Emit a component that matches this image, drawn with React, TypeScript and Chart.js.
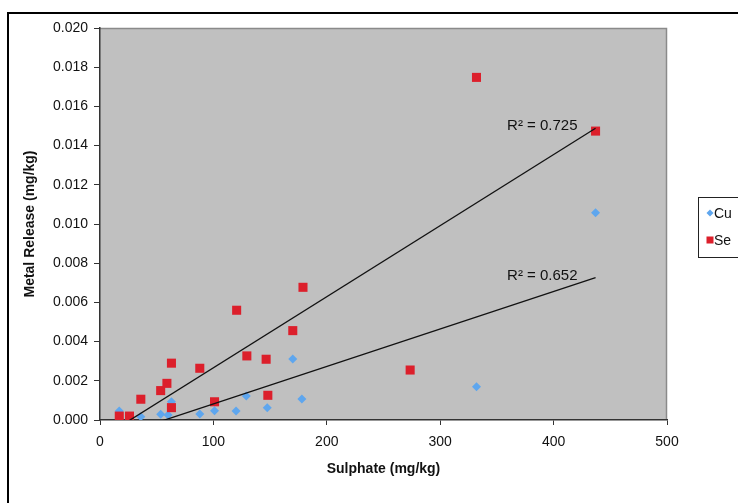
import React, { useEffect, useRef } from 'react';
import { Chart, registerables } from 'chart.js';

Chart.register(...registerables);

// ---- data ----
const seriesNames = ['Cu', 'Se'];
const seriesColors = ['#5ea6ee', '#dc1f2b'];
const cuSulphate = [17, 36, 53.5, 60, 63, 88, 101, 120, 129, 147.5, 170, 178, 332, 437];
const cuRelease = [0.00046, 0.00017, 0.00029, 0.00026, 0.00093, 0.00031, 0.00047, 0.00046, 0.00122, 0.00063, 0.00311, 0.00107, 0.0017, 0.01058];
const seSulphate = [17, 26, 36, 53.5, 59, 63, 63, 88, 101, 120.5, 129.5, 146.5, 148, 170, 179, 273.5, 332, 437];
const seRelease = [0.0002, 0.0002, 0.00106, 0.0015, 0.00187, 0.0029, 0.00063, 0.00264, 0.00093, 0.0056, 0.00327, 0.0031, 0.00126, 0.00456, 0.00677, 0.00255, 0.01748, 0.01474];
const rSquaredLabels = ['R\u00B2 = 0.652', 'R\u00B2 = 0.725'];
const xTitle = 'Sulphate (mg/kg)';
const yTitle = 'Metal Release (mg/kg)';
const xMin = 0, xMax = 500, xStep = 100;
const yMin = 0, yMax = 0.02, yStep = 0.002;

const FONT = "'Liberation Sans', Arial, sans-serif";

function linearFit(xs: number[], ys: number[]) {
  const n = xs.length;
  let sx = 0, sy = 0;
  for (let i = 0; i < n; i++) { sx += xs[i]; sy += ys[i]; }
  const mx = sx / n, my = sy / n;
  let sxy = 0, sxx = 0;
  for (let i = 0; i < n; i++) { sxy += (xs[i] - mx) * (ys[i] - my); sxx += (xs[i] - mx) ** 2; }
  const b = sxy / sxx;
  const a = my - b * mx;
  const lo = Math.min(...xs), hi = Math.max(...xs);
  return [{ x: lo, y: a + b * lo }, { x: hi, y: a + b * hi }];
}

const framePlugin = {
  id: 'frame',
  beforeDraw(chart: any) {
    const { ctx, chartArea: ca, width, height } = chart;
    ctx.save();
    ctx.fillStyle = '#ffffff';
    ctx.fillRect(0, 0, width, height);
    ctx.strokeStyle = '#000000';
    ctx.lineWidth = 2;
    ctx.strokeRect(8, 13, width + 40, height + 40);
    ctx.fillStyle = '#c0c0c0';
    ctx.fillRect(ca.left, ca.top, ca.right - ca.left, ca.bottom - ca.top);
    ctx.strokeStyle = '#8a8a8a';
    ctx.lineWidth = 1.5;
    ctx.beginPath();
    ctx.moveTo(ca.left, ca.top + 0.5);
    ctx.lineTo(ca.right - 0.5, ca.top + 0.5);
    ctx.lineTo(ca.right - 0.5, ca.bottom);
    ctx.stroke();
    ctx.restore();
  },
  afterDatasetsDraw(chart: any) {
    const { ctx } = chart;
    ctx.save();
    ctx.font = `15px ${FONT}`;
    ctx.fillStyle = '#111111';
    ctx.textAlign = 'right';
    ctx.textBaseline = 'middle';
    [2, 3].forEach((di, k) => {
      const meta = chart.getDatasetMeta(di);
      const end = meta.data[meta.data.length - 1];
      ctx.fillText(rSquaredLabels[k], end.x - 18, end.y - 2);
    });
    ctx.restore();
    // legend
    ctx.save();
    ctx.strokeStyle = '#222222';
    ctx.lineWidth = 1;
    ctx.strokeRect(698.5, 197.5, 80, 60);
    ctx.font = `14px ${FONT}`;
    ctx.textAlign = 'left';
    ctx.textBaseline = 'middle';
    seriesNames.forEach((name, i) => {
      const y = 213 + i * 27;
      const x = 710;
      ctx.fillStyle = seriesColors[i];
      if (i === 0) {
        ctx.beginPath();
        ctx.moveTo(x, y - 3.5);
        ctx.lineTo(x + 3.5, y);
        ctx.lineTo(x, y + 3.5);
        ctx.lineTo(x - 3.5, y);
        ctx.closePath();
        ctx.fill();
      } else {
        ctx.fillRect(x - 3.5, y - 3.5, 7, 7);
      }
      ctx.fillStyle = '#111111';
      ctx.fillText(name, 714, y + 1);
    });
    ctx.restore();
  },
};

export default function App() {
  const ref = useRef<HTMLCanvasElement | null>(null);
  useEffect(() => {
    if (!ref.current) return;
    const cuPts = cuSulphate.map((x, i) => ({ x, y: cuRelease[i] }));
    const sePts = seSulphate.map((x, i) => ({ x, y: seRelease[i] }));
    const chart = new Chart(ref.current, {
      type: 'scatter',
      data: {
        datasets: [
          {
            label: seriesNames[0], data: cuPts, order: 2,
            pointStyle: 'rectRot', pointRadius: 4.5, pointBorderWidth: 0,
            backgroundColor: seriesColors[0], borderColor: seriesColors[0],
          },
          {
            label: seriesNames[1], data: sePts, order: 1,
            pointStyle: 'rect', pointRadius: 6.4, pointBorderWidth: 0,
            backgroundColor: seriesColors[1], borderColor: seriesColors[1],
          },
          {
            label: 'Cu trend', data: linearFit(cuSulphate, cuRelease), order: 0,
            showLine: true, pointRadius: 0, borderColor: '#111111', borderWidth: 1.3,
          },
          {
            label: 'Se trend', data: linearFit(seSulphate, seRelease), order: 0,
            showLine: true, pointRadius: 0, borderColor: '#111111', borderWidth: 1.3,
          },
        ],
      },
      options: {
        responsive: false,
        animation: false,
        devicePixelRatio: 1,
        layout: { padding: { left: 0, top: 28, right: 71, bottom: 0 } },
        plugins: { legend: { display: false }, tooltip: { enabled: false } },
        scales: {
          x: {
            type: 'linear', min: xMin, max: xMax,
            ticks: { stepSize: xStep, padding: 9, color: '#111', font: { family: FONT, size: 14 } },
            grid: { drawOnChartArea: false, drawTicks: true, tickLength: 5, color: '#333' },
            border: { display: true, color: '#333', width: 1.5 },
            title: { display: true, text: xTitle, color: '#111', font: { family: FONT, size: 14, weight: 'bold' }, padding: { top: 0, bottom: 25 } },
            afterFit(scale: any) {
              scale.height = 83;
              scale.paddingLeft = 0; scale.paddingRight = 0;
              scale.paddingTop = 0; scale.paddingBottom = 0;
            },
          },
          y: {
            type: 'linear', min: yMin, max: yMax,
            ticks: {
              stepSize: yStep, padding: 6, color: '#111', font: { family: FONT, size: 14 },
              callback: (v: any) => Number(v).toFixed(3),
            },
            grid: { drawOnChartArea: false, drawTicks: true, tickLength: 6, color: '#333' },
            border: { display: true, color: '#333', width: 1.5 },
            title: { display: true, text: yTitle, color: '#111', font: { family: FONT, size: 14, weight: 'bold' }, padding: { top: 22, bottom: 0 } },
            afterFit(scale: any) {
              scale.width = 100;
              scale.paddingLeft = 0; scale.paddingRight = 0;
              scale.paddingTop = 0; scale.paddingBottom = 0;
            },
          },
        },
      },
      plugins: [framePlugin],
    });
    return () => chart.destroy();
  }, []);
  return (
    <div style={{ position: 'fixed', left: 0, top: 0, width: 738, height: 503, background: '#fff' }}>
      <canvas ref={ref} width={738} height={503} style={{ display: 'block' }} />
    </div>
  );
}
